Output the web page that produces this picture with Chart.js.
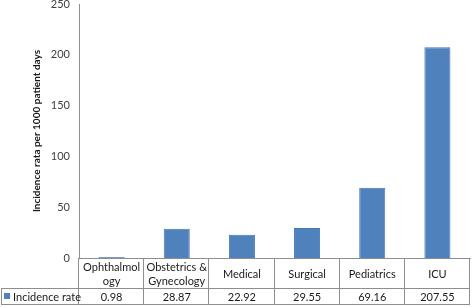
<!DOCTYPE html>
<html>
<head>
<meta charset="utf-8">
<script src="https://cdn.jsdelivr.net/npm/chart.js@4"></script>
<style>
  html, body { margin: 0; padding: 0; background: #fff; }
  #wrap { width: 472px; height: 307px; }
</style>
</head>
<body>
<div id="wrap"><canvas id="myChart" width="472" height="307"></canvas></div>
<script>
const wards = ['Ophthalmology', 'Obstetrics & Gynecology', 'Medical', 'Surgical', 'Pediatrics', 'ICU'];
const wardLines = [['Ophthalmol', 'ogy'], ['Obstetrics &', 'Gynecology'], ['Medical'], ['Surgical'], ['Pediatrics'], ['ICU']];
const incidence = [0.98, 28.87, 22.92, 29.55, 69.16, 207.55];
const seriesName = 'Incidence rate';
const yTicks = [0, 50, 100, 150, 200, 250];

const barColor = '#4f81bd';
const lineColor = '#8e8e8e';
const fontFamily = 'Lato, "Liberation Sans", sans-serif';

// data table under the plot, drawn from the x scale
const dataTable = {
    id: 'dataTable',
    afterDraw(chart) {
        const c = chart.ctx;
        const x = chart.scales.x;
        const area = chart.chartArea;
        const top = area.bottom;
        const mid = top + 30;
        const bot = top + 46;
        const step = x.getPixelForValue(1) - x.getPixelForValue(0);

        c.save();
        c.strokeStyle = lineColor;
        c.lineWidth = 1;
        c.beginPath();
        c.moveTo(1, mid + 0.5); c.lineTo(area.right, mid + 0.5);
        c.moveTo(1, bot + 0.5); c.lineTo(area.right, bot + 0.5);
        c.moveTo(1.5, mid); c.lineTo(1.5, bot);
        c.moveTo(Math.round(area.left) - 0.5, top); c.lineTo(Math.round(area.left) - 0.5, bot);
        for (let i = 0; i < wards.length; i++) {
            const edge = Math.round(x.getPixelForValue(i) + step / 2) - 0.5;
            c.moveTo(edge, top); c.lineTo(edge, bot);
        }
        c.stroke();

        c.fillStyle = '#1a1a1a';
        c.font = '11px ' + fontFamily;
        c.textAlign = 'center';
        c.textBaseline = 'middle';
        wardLines.forEach((lines, i) => {
            const cx = x.getPixelForValue(i);
            const cy = (top + mid) / 2 + 1;
            lines.forEach((t, j) => {
                c.fillText(t, cx, cy + (j - (lines.length - 1) / 2) * 14);
            });
            c.fillText(incidence[i].toFixed(2), cx, (mid + bot) / 2 + 1);
        });

        c.fillStyle = barColor;
        c.fillRect(4, (mid + bot) / 2 - 3, 6, 6);
        c.fillStyle = '#1a1a1a';
        c.textAlign = 'left';
        c.fillText(seriesName, 13, (mid + bot) / 2 + 1);
        c.restore();
    }
};

const ctx = document.getElementById('myChart').getContext('2d');

const myBarChart = new Chart(ctx, {
    type: 'bar',
    data: {
        labels: wards,
        datasets: [{
            label: seriesName,
            data: incidence,
            backgroundColor: barColor,
            borderColor: '#4677b3',
            borderWidth: 1,
            barPercentage: 0.4,
            categoryPercentage: 1
        }]
    },
    options: {
        responsive: false,
        maintainAspectRatio: false,
        animation: false,
        layout: { padding: { left: 0, top: 4, right: 2, bottom: 49 } },
        plugins: {
            legend: { display: false },
            tooltip: { enabled: false }
        },
        scales: {
            x: {
                grid: { display: false, drawTicks: false },
                border: { display: true, color: lineColor, width: 1 },
                ticks: { display: false },
                afterFit(scale) { scale.height = 0; }
            },
            y: {
                min: 0,
                max: 250,
                afterBuildTicks(scale) { scale.ticks = yTicks.map(v => ({ value: v })); },
                grid: { display: false, drawTicks: false },
                border: { display: true, color: lineColor, width: 1 },
                ticks: {
                    padding: 9,
                    color: '#404040',
                    font: { family: fontFamily, size: 11 }
                },
                title: {
                    display: true,
                    text: 'Incidence rata per 1000 patient days',
                    color: '#1a1a1a',
                    padding: { top: 31, bottom: 0 },
                    font: { family: fontFamily, size: 10, weight: 'bold' }
                },
                afterFit(scale) {
                    scale.width = 79;
                    scale.paddingTop = 0;
                    scale.paddingBottom = 0;
                }
            }
        }
    },
    plugins: [dataTable]
});
</script>
</body>
</html>
